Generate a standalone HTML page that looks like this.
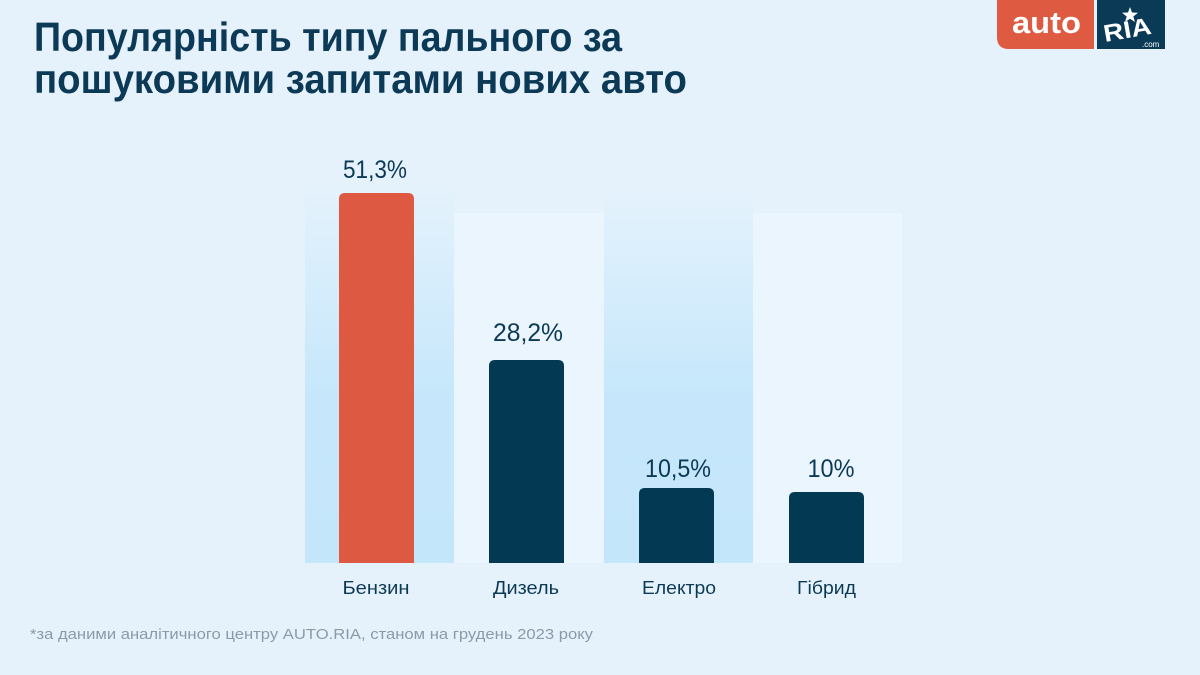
<!DOCTYPE html>
<html>
<head>
<meta charset="utf-8">
<style>
  html,body{margin:0;padding:0;}
  body{width:1200px;height:675px;overflow:hidden;background:#e5f2fc;}
  svg{display:block;}
  text{font-family:"Liberation Sans","DejaVu Sans",sans-serif;}
</style>
</head>
<body>
<svg width="1200" height="675" viewBox="0 0 1200 675" xmlns="http://www.w3.org/2000/svg">
  <defs>
    <linearGradient id="pg" x1="0" y1="0" x2="0" y2="1">
      <stop offset="0" stop-color="#e4f2fc"/>
      <stop offset="0.55" stop-color="#c6e7fb"/>
      <stop offset="1" stop-color="#c4e6fb"/>
    </linearGradient>
  </defs>
  <rect x="0" y="0" width="1200" height="675" fill="#e5f2fc"/>

  <!-- Title -->
  <text x="34" y="51" font-size="41" font-weight="bold" fill="#0c3a56" textLength="588" lengthAdjust="spacingAndGlyphs">Популярність типу пального за</text>
  <text x="34" y="93" font-size="41" font-weight="bold" fill="#0c3a56" textLength="653" lengthAdjust="spacingAndGlyphs">пошуковими запитами нових авто</text>

  <!-- Logo -->
  <path d="M997 0 H1094 V49 H1009 Q997 49 997 37 Z" fill="#de5a41"/>
  <text x="1012" y="33" font-size="31" font-weight="bold" fill="#ffffff" textLength="69" lengthAdjust="spacingAndGlyphs">auto</text>
  <rect x="1097" y="0" width="68" height="49" fill="#0b3a57"/>
  <polygon points="1130,7 1132,12.5 1138,12.8 1133.3,16.5 1135,22 1130,18.8 1125,22 1126.7,16.5 1122,12.8 1128,12.5" fill="#ffffff"/>
  <g transform="translate(1105,42) rotate(-10)">
    <text x="0" y="0" font-family="Liberation Serif, serif" font-size="24" font-weight="bold" fill="#ffffff" textLength="48" lengthAdjust="spacingAndGlyphs">RIA</text>
  </g>
  <text x="1142" y="47" font-size="8" fill="#ffffff">.com</text>

  <!-- Panels -->
  <rect x="305" y="187" width="149" height="376" fill="url(#pg)"/>
  <rect x="454" y="213" width="150" height="350" fill="#eaf5fd"/>
  <rect x="604" y="190" width="149" height="373" fill="url(#pg)"/>
  <rect x="753" y="213" width="149" height="350" fill="#eaf5fd"/>

  <!-- Bars -->
  <path d="M339 563 V199 Q339 193 345 193 H408 Q414 193 414 199 V563 Z" fill="#de5941"/>
  <path d="M489 563 V366 Q489 360 495 360 H558 Q564 360 564 366 V563 Z" fill="#033953"/>
  <path d="M639 563 V494 Q639 488 645 488 H708 Q714 488 714 494 V563 Z" fill="#033953"/>
  <path d="M789 563 V498 Q789 492 795 492 H858 Q864 492 864 498 V563 Z" fill="#033953"/>

  <!-- Value labels -->
  <g font-size="25" fill="#0c3a56" text-anchor="middle">
    <text x="375" y="178" textLength="64" lengthAdjust="spacingAndGlyphs">51,3%</text>
    <text x="528" y="341" textLength="70" lengthAdjust="spacingAndGlyphs">28,2%</text>
    <text x="678" y="477" textLength="66" lengthAdjust="spacingAndGlyphs">10,5%</text>
    <text x="831" y="477" textLength="47" lengthAdjust="spacingAndGlyphs">10%</text>
  </g>

  <!-- Category labels -->
  <g font-size="18" fill="#0c3a56" text-anchor="middle">
    <text x="376" y="594" textLength="67" lengthAdjust="spacingAndGlyphs">Бензин</text>
    <text x="526" y="594" textLength="66" lengthAdjust="spacingAndGlyphs">Дизель</text>
    <text x="679" y="594" textLength="74" lengthAdjust="spacingAndGlyphs">Електро</text>
    <text x="826.5" y="594" textLength="59" lengthAdjust="spacingAndGlyphs">Гібрид</text>
  </g>

  <!-- Footnote -->
  <text x="30" y="639" font-size="15" fill="#8a9ba8" textLength="563" lengthAdjust="spacingAndGlyphs">*за даними аналітичного центру AUTO.RIA, станом на грудень 2023 року</text>
</svg>
</body>
</html>
